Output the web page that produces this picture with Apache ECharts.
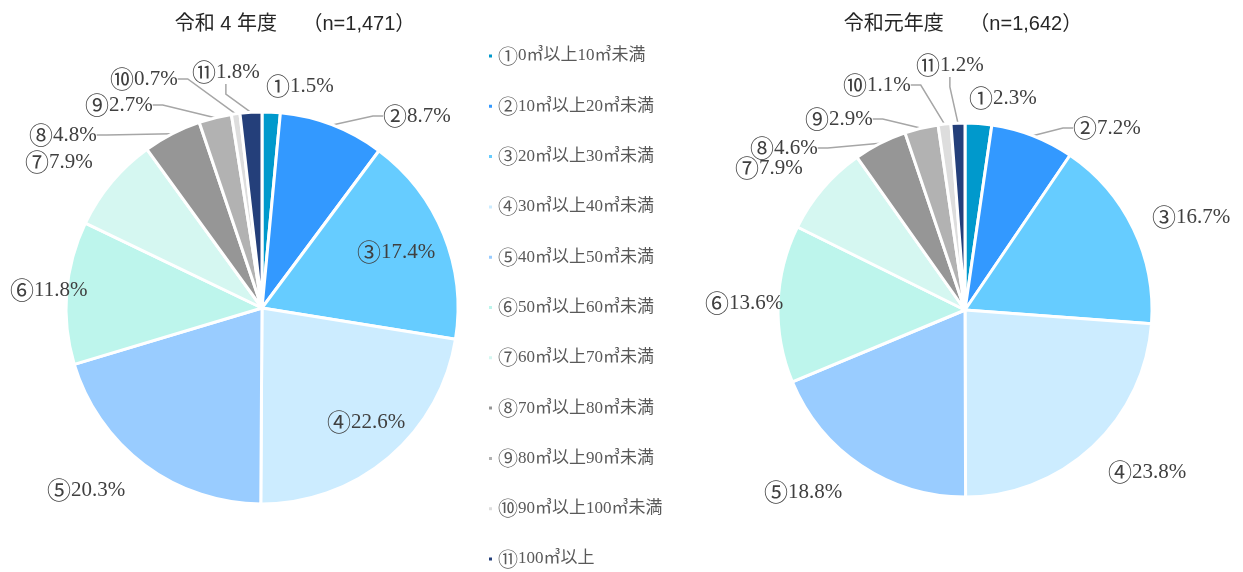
<!DOCTYPE html>
<html>
<head>
<meta charset="utf-8">
<script src="https://cdn.jsdelivr.net/npm/echarts@6/dist/echarts.min.js"></script>
<style>
  html, body { margin: 0; padding: 0; background: #fff; }
</style>
</head>
<body>
<div id="main" style="width:1243px; height:572px"></div>
<script>
// 区分
var categories = ['①0㎥以上10㎥未満', '②10㎥以上20㎥未満', '③20㎥以上30㎥未満', '④30㎥以上40㎥未満',
  '⑤40㎥以上50㎥未満', '⑥50㎥以上60㎥未満', '⑦60㎥以上70㎥未満', '⑧70㎥以上80㎥未満',
  '⑨80㎥以上90㎥未満', '⑩90㎥以上100㎥未満', '⑪100㎥以上'];
var marks = ['①', '②', '③', '④', '⑤', '⑥', '⑦', '⑧', '⑨', '⑩', '⑪'];
// 割合(%)
var valuesR4 = [1.5, 8.7, 17.4, 22.6, 20.3, 11.8, 7.9, 4.8, 2.7, 0.7, 1.8];
var valuesR1 = [2.3, 7.2, 16.7, 23.8, 18.8, 13.6, 7.9, 4.6, 2.9, 1.1, 1.2];

var colors = ['#0099CC', '#3399FF', '#66CCFF', '#CCECFF', '#99CCFF', '#BDF5EC',
  '#D5F7F1', '#969696', '#B2B2B2', '#DDDDDD', '#243F7A'];
var withLine = [1, 7, 8, 9, 10]; // 引き出し線あり

var serifFont = '"Liberation Serif", "DejaVu Serif", "Noto Sans CJK JP", serif';
var markFont = '"Noto Sans CJK JP", sans-serif';

// ラベル位置(円の中心からのずれ、左端・中央)
var posR4 = [[4, -222], [121, -192], [95, -56], [65, 114], [-215, 182], [-252, -18],
  [-237, -146], [-233, -173], [-177, -203], [-152, -229], [-70, -236]];
var posR1 = [[4, -212], [108, -182], [187, -93], [143, 162], [-201, 182], [-260, -7],
  [-230, -142], [-215, -162], [-160, -191], [-122, -225], [-49, -245]];

function makeData(vals) {
  return vals.map(function (v, i) {
    return {
      name: categories[i],
      value: v,
      labelLine: { show: withLine.indexOf(i) >= 0 }
    };
  });
}

function makePie(vals, center, r, pos) {
  return {
    type: 'pie',
    center: center,
    radius: r,
    startAngle: 90,
    clockwise: true,
    avoidLabelOverlap: false,
    itemStyle: { borderColor: '#fff', borderWidth: 3 },
    label: {
      show: true,
      position: 'outside',
      formatter: function (p) {
        return '{m|' + marks[p.dataIndex] + '}{v|' + p.value.toFixed(1) + '%}';
      },
      rich: {
        m: { fontSize: 24, fontFamily: markFont, color: '#404040' },
        v: { fontSize: 21, fontFamily: serifFont, color: '#404040' }
      }
    },
    labelLine: {
      length: 10, length2: 10,
      lineStyle: { color: '#A6A6A6', width: 1.5 }
    },
    labelLayout: function (p) {
      var o = pos[p.dataIndex];
      return { x: center[0] + o[0], y: center[1] + o[1], align: 'left', verticalAlign: 'middle' };
    },
    emphasis: { disabled: true },
    data: makeData(vals)
  };
}

var titleStyle = { fontSize: 20, fontWeight: 'normal', color: '#262626',
  fontFamily: 'Arial, "Liberation Sans", "Noto Sans CJK JP", sans-serif' };

var myChart = echarts.init(document.getElementById('main'));
var option = {
  animation: false,
  color: colors,
  title: [
    { text: '令和 4 年度　 （n=1,471）', left: 290, top: 9, textAlign: 'center', textStyle: titleStyle },
    { text: '令和元年度　 （n=1,642）', left: 958, top: 9, textAlign: 'center', textStyle: titleStyle }
  ],
  legend: {
    orient: 'vertical',
    left: 487,
    top: 46,
    height: 540,
    padding: 0,
    icon: 'rect',
    itemWidth: 5,
    itemHeight: 5,
    itemGap: 30.3,
    formatter: function (name) {
      return '{m|' + name.charAt(0) + '}{t|' + name.slice(1) + '}';
    },
    textStyle: {
      rich: {
        m: { fontSize: 20, fontFamily: markFont, color: '#595959', height: 20 },
        t: { fontSize: 17, fontFamily: serifFont, color: '#595959', height: 20 }
      }
    },
    data: categories
  },
  series: [
    makePie(valuesR4, [262, 308], 196, posR4),
    makePie(valuesR1, [965, 310], 187, posR1)
  ]
};
myChart.setOption(option);
</script>
</body>
</html>
